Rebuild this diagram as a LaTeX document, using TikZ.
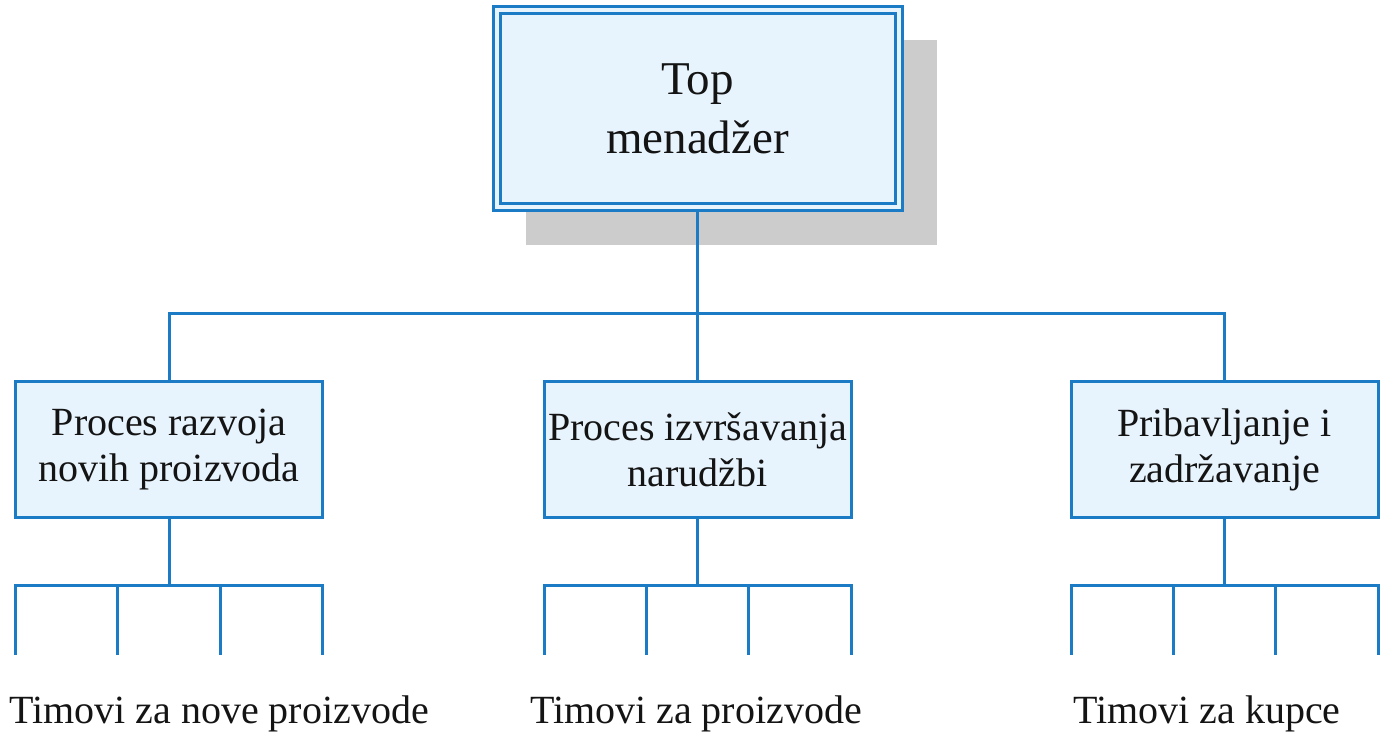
\documentclass[tikz,border=0pt]{standalone}
\usepackage{fontspec}
\setmainfont{Liberation Serif}
\usetikzlibrary{calc,backgrounds}
\definecolor{linkblue}{HTML}{1B7BC4}
\definecolor{boxfill}{HTML}{E8F4FD}
\definecolor{shadowgray}{HTML}{CCCCCC}
\definecolor{inkcol}{HTML}{141414}

\begin{document}
\begin{tikzpicture}[x=0.5pt,y=-0.5pt,
  link/.style={draw=linkblue, line width=1.5pt},
  unitbox/.style={rectangle, draw=linkblue, line width=1.5pt, fill=boxfill,
    minimum width=153.5pt, minimum height=68pt, inner sep=0pt, outer sep=0pt,
    align=center, font=\fontsize{20}{23}\selectfont, text=inkcol},
  topbox/.style={rectangle, draw=linkblue, line width=1.5pt, double=boxfill,
    double distance=2pt, fill=boxfill, minimum width=201pt, minimum height=98.5pt,
    inner sep=0pt, outer sep=0pt, align=center,
    font=\fontsize{23.5}{29.5}\selectfont, text=inkcol},
  teamlabel/.style={anchor=base, inner sep=0pt,
    font=\fontsize{20}{23}\selectfont, text=inkcol}]

\useasboundingbox (0,0) rectangle (1381,732);

% head of the organisation
\node[topbox] (top) at (697.5,109) {Top\\menadžer};
\begin{scope}[on background layer]
  \fill[shadowgray] ($(top.south west)+(29.5,38)$) rectangle ($(top.north east)+(38.5,29.5)$);
\end{scope}
% foot of the double frame, where the trunk line leaves it
\coordinate (topfoot) at ($(top.south)+(0,5)$);

% process units
\node[unitbox] (p1) at (169,449.5)    {Proces razvoja\\novih proizvoda};
\node[unitbox] (p2) at (697.5,449.5)  {Proces izvršavanja\\narudžbi};
\node[unitbox] (p3) at (1224.5,449.5) {Pribavljanje i\\zadržavanje};

% main bus
\coordinate (bus) at (697.5,314);
\draw[link] (topfoot) -- (bus);
\draw[link] (p1.north) -- (p1.north |- bus) -- (p3.north |- bus) -- (p3.north);
\draw[link] (bus) -- (p2.north);

% team fans under each unit
\foreach \i in {1,2,3}{
  \coordinate (f\i) at ($(p\i.south)+(0,68)$);
  \draw[link] (p\i.south) -- (f\i);
  \draw[link] ($(p\i.south west |- f\i)+(0,69)$) -- (p\i.south west |- f\i)
     -- (p\i.south east |- f\i) -- ++(0,69);
  \foreach \k in {1,2}{
    \draw[link] ($(p\i.south west |- f\i)!\k/3!(p\i.south east |- f\i)$) -- ++(0,69);
  }
}

% team labels
\node[teamlabel] (t1) at (219,723)  {Timovi za nove proizvode};
\node[teamlabel] (t2) at (696,723)  {Timovi za proizvode};
\node[teamlabel] (t3) at (1207,723) {Timovi za kupce};
\end{tikzpicture}
\end{document}
